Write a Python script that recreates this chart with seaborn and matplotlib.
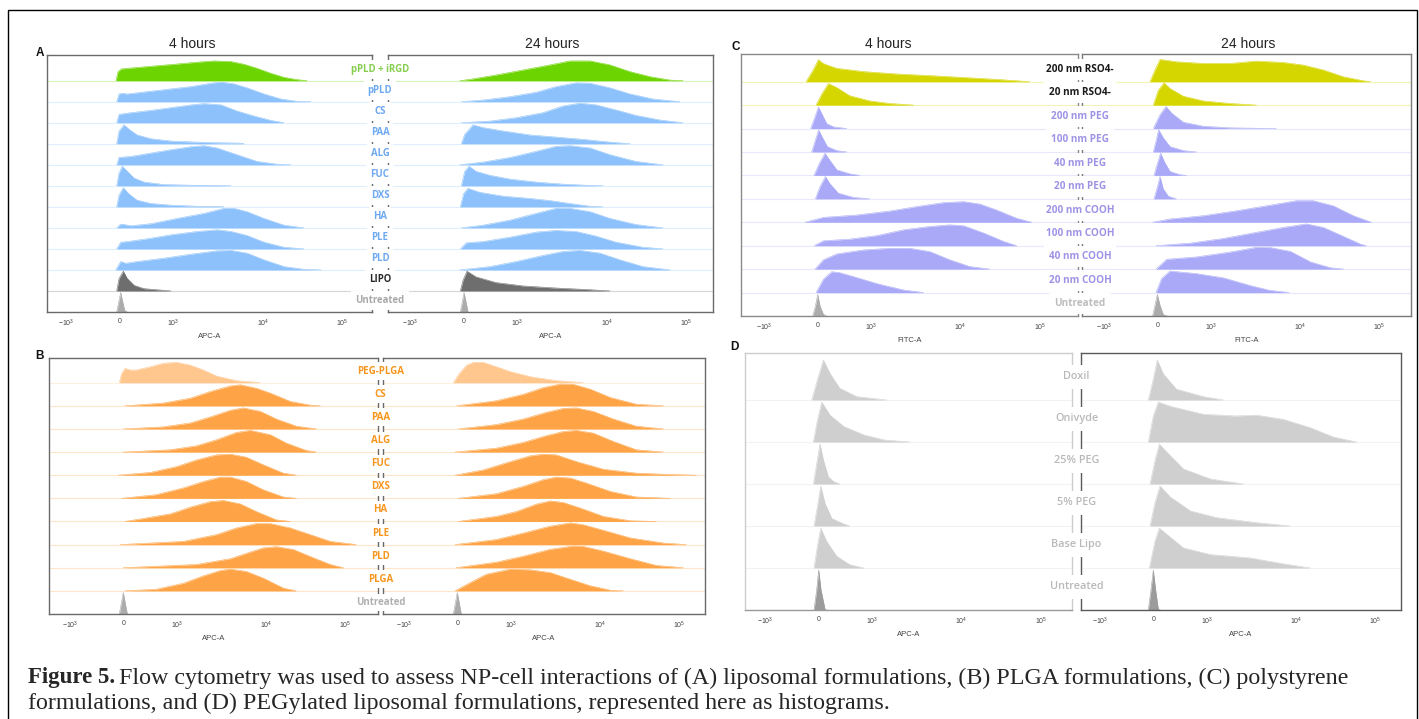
import matplotlib
matplotlib.use("Agg")
import matplotlib.pyplot as plt
import numpy as np
import seaborn as sns
from matplotlib.colors import to_rgb
from matplotlib.patches import Rectangle

sns.set_style("white")
plt.rcParams["font.family"] = ["Liberation Sans", "DejaVu Sans"]

W, H = 1419, 719

# ---- axis scale: biexponential display, values -> display channel ----
TICK_VALUES = [-1000, 0, 1000, 1e4, 1e5]
TICK_LABELS = [r"$\mathregular{-10^3}$", "0", r"$\mathregular{10^3}$",
               r"$\mathregular{10^4}$", r"$\mathregular{10^5}$"]

# ---- data: ridges as (display channel, relative count) ----
A_LABELS = ["pPLD + iRGD", "pPLD", "CS", "PAA", "ALG", "FUC", "DXS", "HA", "PLE", "PLD", "LIPO", "Untreated"]
A_4H = [
    [(-4, 0), (-2, .43), (1.3, .56), (27, .67), (54, .78), (77, .88), (94, .94), (111, .91), (124, .78), (137, .59), (151, .35), (164, .16), (177, .05), (187, 0)],
    [(-3.3, 0), (-1, .37), (2.3, .40), (7.3, .37), (27, .48), (51, .61), (71, .72), (91, .88), (101, .93), (114, .85), (127, .66), (144, .37), (161, .13), (177, .02), (191, 0)],
    [(-3.3, 0), (-1, .40), (11, .48), (31, .59), (51, .72), (71, .85), (84, .91), (101, .85), (117, .56), (134, .32), (151, .11), (164, 0)],
    [(-3.3, 0), (-1, .61), (4, .90), (9, .69), (17, .42), (31, .24), (51, .13), (77, .08), (97, .05), (121, .03), (124, 0)],
    [(-3.3, 0), (-1, .35), (11, .40), (31, .56), (51, .72), (71, .86), (84, .91), (97, .80), (117, .48), (137, .16), (157, .03), (171, 0)],
    [(-3.3, 0), (-1, .61), (2.3, .93), (7.3, .69), (14, .37), (24, .18), (44, .06), (71, .03), (97, .02), (111, 0)],
    [(-3.3, 0), (-1, .56), (3.3, .91), (9, .61), (17, .32), (31, .16), (51, .08), (77, .03), (97, .02), (104, 0)],
    [(-3.3, 0), (.7, .18), (4, .16), (11, .10), (31, .20), (57, .45), (84, .69), (104, .93), (114, .93), (127, .77), (144, .45), (164, .13), (184, 0)],
    [(-3.3, 0), (.7, .32), (7.3, .35), (27, .48), (51, .67), (77, .83), (97, .91), (111, .83), (127, .64), (144, .32), (164, .08), (184, 0)],
    [(-4.3, 0), (.7, .40), (5.7, .32), (17, .40), (44, .56), (71, .75), (97, .91), (111, .93), (127, .80), (144, .48), (164, .16), (184, .03), (201, 0)],
    [(-3.3, 0), (-1, .59), (3.3, .94), (7.3, .59), (14, .27), (24, .11), (44, .03), (51, 0)],
    [(-3.3, 0), (-1.3, .48), (.7, .93), (2.7, .48), (4.7, .08), (7.3, 0)],
]
A_24H = [
    [(-4.3, 0), (5.7, .06), (32, .27), (59, .51), (86, .75), (106, .94), (126, .94), (146, .75), (166, .43), (186, .19), (206, .03), (219, 0)],
    [(-2.7, 0), (19, .08), (46, .24), (72, .45), (92, .72), (112, .90), (126, .88), (146, .66), (166, .37), (189, .13), (216, 0)],
    [(-2.7, 0), (26, .08), (52, .24), (79, .48), (99, .80), (116, .93), (132, .85), (152, .61), (172, .35), (196, .13), (219, 0)],
    [(-2.7, 0), (.7, .45), (9, .90), (19, .77), (39, .61), (66, .42), (92, .32), (119, .21), (146, .08), (166, 0)],
    [(-4.3, 0), (19, .13), (46, .35), (72, .64), (92, .88), (106, .91), (126, .80), (146, .48), (172, .16), (199, 0)],
    [(-2.7, 0), (.7, .69), (5, .93), (12, .69), (26, .50), (46, .32), (72, .18), (99, .08), (126, .02), (139, 0)],
    [(-3.7, 0), (-.3, .64), (4, .88), (16, .69), (39, .51), (66, .40), (86, .30), (106, .16), (126, .03), (139, 0)],
    [(-2.7, 0), (19, .13), (46, .37), (72, .69), (92, .93), (106, .93), (126, .77), (146, .45), (172, .16), (199, 0)],
    [(-3.7, 0), (2.3, .29), (19, .35), (46, .56), (72, .80), (92, .88), (112, .83), (132, .61), (152, .32), (179, .08), (199, 0)],
    [(-4.3, 0), (26, .16), (52, .40), (79, .69), (99, .88), (116, .93), (136, .80), (156, .48), (179, .16), (206, 0)],
    [(-3.7, 0), (-1, .51), (3, .94), (12, .67), (32, .40), (59, .24), (92, .14), (126, .06), (146, 0)],
    [(-3.7, 0), (-1.7, .48), (0, .93), (2, .48), (4, 0)],
]

B_LABELS = ["PEG-PLGA", "CS", "PAA", "ALG", "FUC", "DXS", "HA", "PLE", "PLD", "PLGA", "Untreated"]
B_4H = [
    [(-4, 0), (-1.7, .40), (1.7, .62), (6.7, .55), (13, .55), (27, .69), (40, .84), (53, .88), (67, .76), (80, .55), (93, .29), (113, .09), (137, 0)],
    [(1.7, 0), (40, .12), (67, .33), (87, .62), (107, .86), (117, .91), (133, .76), (147, .55), (167, .19), (187, .03), (197, 0)],
    [(0, 0), (40, .09), (67, .26), (87, .52), (107, .81), (120, .91), (137, .76), (153, .43), (173, .12), (193, 0)],
    [(0, 0), (47, .10), (73, .27), (93, .53), (113, .85), (127, .94), (147, .75), (163, .39), (183, .07), (193, 0)],
    [(-5, 0), (27, .12), (53, .37), (73, .66), (93, .88), (107, .91), (123, .78), (140, .45), (160, .09), (173, 0)],
    [(-1.7, 0), (33, .16), (60, .45), (80, .73), (97, .92), (107, .92), (123, .73), (140, .37), (160, .06), (173, 0)],
    [(1.7, 0), (20, .13), (47, .33), (67, .62), (87, .86), (100, .91), (117, .76), (133, .43), (153, .07), (167, 0)],
    [(-3.3, 0), (60, .14), (93, .43), (113, .72), (133, .91), (147, .91), (167, .72), (187, .43), (207, .14), (233, 0)],
    [(0, 0), (73, .14), (107, .39), (127, .68), (140, .86), (153, .91), (170, .79), (190, .43), (207, .14), (220, 0)],
    [(1.7, 0), (33, .07), (60, .33), (80, .65), (97, .88), (107, .94), (123, .84), (140, .55), (160, .12), (173, 0)],
    [(-4, 0), (-2, .46), (0, .93), (2, .46), (4, 0)],
]
B_24H = [
    [(-4, 0), (2, .40), (9.3, .76), (16, .88), (26, .88), (39, .69), (53, .48), (73, .26), (99, .09), (126, 0)],
    [(-.7, 0), (39, .22), (66, .50), (86, .79), (103, .94), (116, .93), (133, .72), (153, .36), (179, .07), (206, 0)],
    [(1, 0), (39, .19), (66, .43), (89, .72), (106, .89), (119, .91), (136, .76), (156, .43), (179, .12), (206, 0)],
    [(-2.3, 0), (39, .17), (66, .42), (89, .71), (106, .89), (119, .94), (136, .82), (156, .46), (179, .10), (206, 0)],
    [(-2.3, 0), (26, .23), (53, .59), (73, .84), (86, .91), (99, .88), (119, .59), (146, .26), (179, .09), (213, .03), (239, 0)],
    [(1, 0), (39, .20), (66, .52), (86, .81), (99, .92), (113, .88), (129, .66), (153, .30), (179, .06), (213, 0)],
    [(1, 0), (39, .22), (59, .43), (79, .75), (93, .89), (106, .82), (123, .58), (146, .22), (173, .03), (199, 0)],
    [(-2.3, 0), (39, .22), (66, .50), (92, .79), (113, .94), (126, .86), (146, .62), (173, .29), (206, .07), (229, 0)],
    [(-1.3, 0), (39, .24), (66, .50), (92, .79), (116, .94), (126, .92), (146, .72), (173, .39), (199, .10), (226, 0)],
    [(-2.3, 0), (13, .36), (29, .72), (53, .94), (73, .91), (93, .79), (113, .50), (133, .22), (153, .03), (166, 0)],
    [(-4, 0), (-2, .46), (0, .93), (2, .46), (4, 0)],
]

C_LABELS = ["200 nm RSO4-", "20 nm RSO4-", "200 nm PEG", "100 nm PEG", "40 nm PEG", "20 nm PEG",
            "200 nm COOH", "100 nm COOH", "40 nm COOH", "20 nm COOH", "Untreated"]
C_4H = [
    [(-11.7, 0), (-4.3, .52), (.7, .94), (5.7, .77), (19, .57), (46, .43), (79, .33), (112, .26), (146, .18), (179, .10), (212, 0)],
    [(-1.7, 0), (4, .47), (10.7, .92), (19, .75), (32, .40), (52, .18), (72, .07), (96, 0)],
    [(-7, 0), (-2.7, .50), (.7, .92), (4, .64), (9, .21), (16, .07), (29, 0)],
    [(-6, 0), (-2.3, .51), (1, .94), (4.3, .65), (9.7, .23), (19, .06), (29, 0)],
    [(-3.7, 0), (1.7, .52), (7.3, .95), (11.7, .67), (19, .24), (32, .07), (42, 0)],
    [(-2.3, 0), (2.3, .52), (7.7, .95), (12.3, .64), (20.7, .24), (36, .06), (52, 0)],
    [(-12.7, 0), (5.7, .21), (39, .31), (72, .48), (99, .67), (126, .84), (146, .88), (162, .78), (179, .52), (199, .17), (214, 0)],
    [(-3.7, 0), (5.7, .21), (32, .28), (59, .43), (86, .68), (112, .82), (132, .89), (146, .85), (166, .54), (186, .18), (199, 0)],
    [(-2.7, 0), (5.7, .40), (19, .65), (46, .82), (72, .89), (92, .89), (112, .75), (132, .40), (152, .11), (172, 0)],
    [(-1.7, 0), (5.7, .57), (14, .89), (22, .85), (39, .64), (62, .35), (86, .11), (106, 0)],
    [(-5, 0), (-2.3, .43), (0, .92), (2.3, .43), (5.7, .07), (9, 0)],
]
C_24H = [
    [(-7.3, 0), (-2.3, .50), (2.7, .95), (19, .85), (46, .78), (73, .78), (99, .88), (126, .82), (146, .71), (166, .50), (186, .21), (206, .04), (213, 0)],
    [(-4, 0), (1, .64), (6.7, .95), (12.7, .71), (26, .38), (46, .18), (73, .07), (99, 0)],
    [(-4, 0), (2.7, .59), (8.7, .94), (14.3, .66), (26, .27), (46, .10), (73, .03), (119, 0)],
    [(-4, 0), (-1.3, .46), (1.3, .95), (6, .60), (12.7, .23), (26, .06), (39, 0)],
    [(-3.3, 0), (0, .49), (3.3, .95), (7.3, .56), (12.7, .17), (22.7, .03), (29, 0)],
    [(-3.3, 0), (0, .49), (2.7, .95), (6, .42), (11, .11), (19, 0)],
    [(-4.7, 0), (12.7, .14), (46, .28), (79, .49), (113, .73), (139, .92), (156, .92), (176, .70), (196, .28), (214, 0)],
    [(-1.3, 0), (33, .11), (66, .31), (99, .57), (126, .78), (149, .93), (166, .78), (186, .40), (203, .07), (209, 0)],
    [(-1.3, 0), (9.3, .42), (39, .52), (73, .73), (99, .93), (113, .92), (133, .76), (153, .31), (173, .06), (186, 0)],
    [(-1.3, 0), (4.3, .60), (12.7, .92), (39, .81), (66, .63), (92, .31), (112, .10), (132, 0)],
    [(-4.7, 0), (-2.3, .46), (0, .92), (2.7, .46), (6, .06), (10, 0)],
]

D_LABELS = ["Doxil", "Onivyde", "25% PEG", "5% PEG", "Base Lipo", "Untreated"]
D_4H = [
    [(-7, 0), (-1.3, .48), (4.7, .95), (11.3, .63), (21, .28), (38, .08), (68, 0)],
    [(-5.3, 0), (-1.3, .52), (3, .95), (11.3, .64), (25, .37), (45, .17), (65, .05), (91, 0)],
    [(-5.3, 0), (-2, .49), (1.3, .95), (4.7, .57), (9.7, .17), (14.7, .06), (21, 0)],
    [(-4.7, 0), (-1.3, .46), (2, .95), (6.3, .54), (13, .18), (25, .05), (31, 0)],
    [(-4.7, 0), (-1.3, .52), (2, .95), (8, .63), (18, .28), (31, .08), (45, 0)],
    [(-4.7, 0), (-2, .48), (0, .95), (2.3, .48), (6.3, .02), (8, 0)],
]
D_24H = [
    [(-5, 0), (0, .50), (4, .95), (10, .62), (23, .26), (50, .08), (70, 0)],
    [(-5, 0), (0, .62), (5, .95), (17, .85), (50, .66), (83, .62), (103, .64), (130, .54), (157, .34), (180, .12), (203, 0)],
    [(-3.3, 0), (1.7, .56), (6, .95), (13, .77), (30, .36), (57, .12), (90, 0)],
    [(-3.3, 0), (1.7, .56), (6.7, .95), (17, .69), (37, .36), (63, .20), (103, .08), (137, 0)],
    [(-4, 0), (1.7, .65), (6, .95), (13, .81), (30, .48), (57, .32), (97, .24), (130, .10), (157, 0)],
    [(-5, 0), (-2.3, .48), (0, .95), (2.3, .48), (5, .02), (7, 0)],
]

CAPTION = [
    "Flow cytometry was used to assess NP-cell interactions of (A) liposomal formulations, (B) PLGA formulations, (C) polystyrene",
    "formulations, and (D) PEGylated liposomal formulations, represented here as histograms.",
]

# colours
GREEN, BLUE, LIPO, UNTR = "#6cd400", "#8cc1fb", "#6e6e6e", "#acacac"
ORANGE, PEACH = "#fea446", "#ffc68d"
YELLOW, LAV = "#d5d500", "#a9a9f8"
DGREY, DUNTR = "#cfcfcf", "#9c9c9c"

A_FILLS = [GREEN] + [BLUE] * 9 + [LIPO, UNTR]
A_TEXT = ["#86cf4e"] + ["#6ea9f1"] * 9 + ["#2a2a2a", "#a9a9a9"]
B_FILLS = [PEACH] + [ORANGE] * 9 + [UNTR]
B_TEXT = ["#f7961f"] * 10 + ["#b0b0b0"]
C_FILLS = [YELLOW] * 2 + [LAV] * 8 + [UNTR]
C_TEXT = ["#1a1a1a"] * 2 + ["#9d93e6"] * 8 + ["#bdbdbd"]
D_FILLS = [DGREY] * 5 + [DUNTR]
D_TEXT = ["#b9b9b9"] * 6


def to_ch(v):
    """biexponential-like display transform (channel = figure pixel from 0)"""
    if v <= 1000:
        return v * 0.0535
    if v <= 1e4:
        return 54 + np.log10(v / 1e3) * 89
    if v <= 1e5:
        return 143 + np.log10(v / 1e4) * 79
    return 222 + np.log10(v / 1e5) * 79


MINOR = [k * 100 * s for k in range(1, 10) for s in (-1, 1)]
MINOR += [k * d for d in (1e3, 1e4) for k in range(2, 10)] + [2e5]


def lighten(c, f):
    r = np.array(to_rgb(c))
    return tuple(r + (1 - r) * f)


fig = plt.figure(figsize=(W / 100, H / 100), dpi=100)


def draw_hist(left, right, top, bottom, zero, first, ridges, fills, xlabel, spine="#6a6a6a", bottom_spine=None):
    ax = fig.add_axes([left / W, 1 - bottom / H, (right - left) / W, (bottom - top) / H])
    n = len(ridges)
    spacing = (bottom - first) / (n - 1)
    ax.set_xlim(left - zero, right - zero)
    ax.set_ylim(0, n - 1 + (first - top) / spacing)
    for i, pts in enumerate(ridges):
        base = n - 1 - i
        xs = [p[0] for p in pts]
        ys = [base + p[1] for p in pts]
        ax.axhline(base, color=lighten(fills[i], 0.72), lw=0.8, zorder=1)
        ax.fill_between(xs, base, ys, color=fills[i], lw=0, zorder=2)
        sns.lineplot(x=xs, y=ys, ax=ax, color=fills[i], lw=0.4, estimator=None, sort=False, zorder=2)
    ax.set_yticks([])
    ax.set_xticks([to_ch(v) for v in TICK_VALUES])
    ax.set_xticklabels(TICK_LABELS)
    ax.set_xticks([to_ch(v) for v in MINOR], minor=True)
    ax.tick_params(axis="x", which="major", direction="inout", length=4, width=0.8,
                   color="#222", labelsize=5, labelcolor="#444", pad=2)
    ax.tick_params(axis="x", which="minor", direction="inout", length=2.5, width=0.6, color="#333")
    ax.set_xlabel(xlabel, fontsize=5.5, color="#444", labelpad=3)
    for s in ax.spines.values():
        s.set_color(spine)
        s.set_linewidth(1)
    if bottom_spine:
        ax.spines["bottom"].set_color(bottom_spine)
    return spacing


def draw_labels(xc, first, spacing, labels, colors, size, pad, frac, weight="bold"):
    # white label boxes sit over the inner frames, leaving short marks at each row edge
    for i, lab in enumerate(labels):
        y = first + i * spacing - frac * spacing
        fig.text(xc / W, 1 - y / H, lab, ha="center", va="center", color=colors[i],
                 fontsize=size, fontweight=weight, family=["Open Sans", "DejaVu Sans"],
                 bbox=dict(boxstyle=f"square,pad={pad}", fc="white", ec="none"), zorder=5)


# panel A
sp = draw_hist(47, 372, 55, 312, 120, 80.7, A_4H, A_FILLS, "APC-A")
draw_hist(388, 713, 55, 312, 464, 80.7, A_24H, A_FILLS, "APC-A")
draw_labels(380, 80.7, sp, A_LABELS, A_TEXT, 6.9, 0.43, 0.55)

# panel B
sp = draw_hist(49, 378, 357.7, 614, 123.3, 382.7, B_4H, B_FILLS, "APC-A")
draw_hist(383, 705, 357.7, 614, 457.3, 382.7, B_24H, B_FILLS, "APC-A")
draw_labels(380.5, 382.7, sp, B_LABELS, B_TEXT, 7.0, 0.35, 0.5)

# panel C
sp = draw_hist(741, 1078, 54.3, 316, 817.7, 81.7, C_4H, C_FILLS, "FITC-A", spine="#8a8a8a")
draw_hist(1082, 1411, 54.3, 316, 1157.3, 81.7, C_24H, C_FILLS, "FITC-A", spine="#7a7a7a")
draw_labels(1080, 81.7, sp, C_LABELS, C_TEXT, 7.2, 0.5, 0.52)

# panel D
sp = draw_hist(745, 1072, 353.3, 610, 818.7, 400, D_4H, D_FILLS, "APC-A", spine="#cccccc", bottom_spine="#999999")
draw_hist(1081, 1401, 353.3, 610, 1153.3, 400, D_24H, D_FILLS, "APC-A", spine="#5a5a5a")
draw_labels(1076.5, 400, sp, D_LABELS, D_TEXT, 7.8, 0.6, 0.55, weight="semibold")

# titles and panel letters
for x, y, s in [(192, 44, "4 hours"), (552, 44, "24 hours"), (888, 44, "4 hours"), (1248, 44, "24 hours")]:
    fig.text(x / W, 1 - y / H, s, ha="center", va="center", fontsize=10, color="#222")
for x, y, s in [(40, 53, "A"), (40, 356, "B"), (736, 47, "C"), (734, 347, "D")]:
    fig.text(x / W, 1 - y / H, s, ha="center", va="center", fontsize=8.5, fontweight="bold", color="#111")

# caption
serif = ["Liberation Serif", "DejaVu Serif"]
t = fig.text(28 / W, 1 - 678 / H, "Figure 5.", family=serif, fontsize=16.5, fontweight="bold", va="center")
bb = t.get_window_extent(fig.canvas.get_renderer())
fig.text((bb.x1 + 4) / W, 1 - 678 / H, CAPTION[0], family=serif, fontsize=17.3, va="center")
fig.text(28 / W, 1 - 703 / H, CAPTION[1], family=serif, fontsize=17.3, va="center")

# outer frame
fig.patches.append(Rectangle((8 / W, -0.01), (1417 - 8) / W, (H - 10) / H + 0.01,
                             transform=fig.transFigure, fill=False, ec="black", lw=1))

fig.savefig("out.png", dpi=100)
